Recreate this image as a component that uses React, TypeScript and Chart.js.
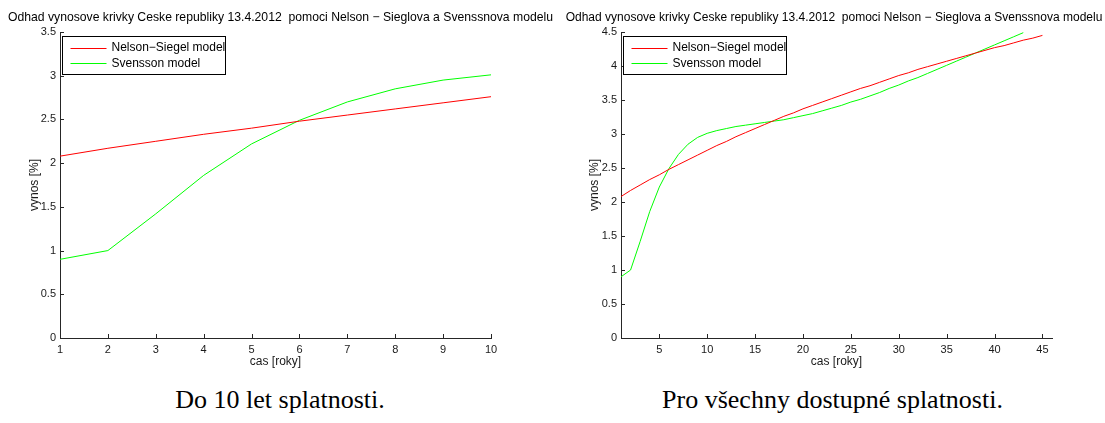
import React, { useEffect, useRef } from "react";
import { Chart, registerables } from "chart.js";

Chart.register(...registerables);

// ---- text ----
const TITLE =
  "Odhad vynosove krivky Ceske republiky 13.4.2012  pomoci Nelson \u2212 Sieglova a Svenssnova modelu";
const X_LABEL = "cas [roky]";
const Y_LABEL = "vynos [%]";
const SERIES_NAMES = ["Nelson\u2212Siegel model", "Svensson model"];
const CAPTIONS = ["Do 10 let splatnosti.", "Pro v\u0161echny dostupn\u00e9 splatnosti."];

// ---- data: maturity in years, yield in % ----
const maturities = [
  1, 2, 3, 4, 5, 6, 7, 8, 9, 10, 11, 12, 13, 14, 15, 16, 17, 18, 19, 20, 21, 22, 23,
  24, 25, 26, 27, 28, 29, 30, 31, 32, 33, 34, 35, 36, 37, 38, 39, 40, 41, 42, 43, 44, 45,
];
const nelsonSiegel = [
  2.08, 2.17, 2.25, 2.33, 2.4, 2.48, 2.55, 2.62, 2.69, 2.76, 2.83, 2.89, 2.96, 3.02, 3.08,
  3.14, 3.2, 3.26, 3.31, 3.37, 3.42, 3.47, 3.52, 3.57, 3.62, 3.67, 3.71, 3.76, 3.81, 3.86,
  3.9, 3.95, 3.99, 4.03, 4.07, 4.11, 4.15, 4.19, 4.23, 4.27, 4.3, 4.34, 4.38, 4.41, 4.45,
];
const svensson = [
  0.9, 1.0, 1.42, 1.86, 2.22, 2.49, 2.7, 2.85, 2.95, 3.01, 3.05, 3.08, 3.11, 3.13, 3.15,
  3.17, 3.19, 3.21, 3.24, 3.27, 3.3, 3.34, 3.38, 3.42, 3.47, 3.51, 3.56, 3.61, 3.67, 3.72,
  3.78, 3.83, 3.89, 3.95, 4.01, 4.07, 4.13, 4.19, 4.25, 4.31, 4.37, 4.43, 4.49,
];

// ---- axis ticks ----
const xTicksShort = [1, 2, 3, 4, 5, 6, 7, 8, 9, 10];
const yTicksShort = [0, 0.5, 1, 1.5, 2, 2.5, 3, 3.5];
const xTicksLong = [5, 10, 15, 20, 25, 30, 35, 40, 45];
const yTicksLong = [0, 0.5, 1, 1.5, 2, 2.5, 3, 3.5, 4, 4.5];

const SERIES_COLORS = ["#ff0000", "#00ff00"];
const AXIS_COLOR = "#262626";
const SANS = '"Liberation Sans", Arial, sans-serif';
const TICK_LEN = 4;

type PanelSpec = {
  upTo: number; // last maturity shown
  xMin: number;
  xMax: number;
  yMax: number;
  xTicks: number[];
  yTicks: number[];
  width: number;
  yAxisWidth: number;
  padRight: number;
  titleSize: number;
  titleShift: number;
};

const toPoints = (values: number[], upTo: number) =>
  values
    .map((v, i) => ({ x: maturities[i], y: v }))
    .filter((p) => p.x <= upTo);

// inward tick marks, title above the axes and a boxed legend in the top-left corner
const panelDecor = {
  id: "panelDecor",
  afterDraw(chart: any, _args: any, opts: any) {
    const { ctx, chartArea, scales } = chart;
    const xs = scales.x;
    const ys = scales.y;
    ctx.save();
    ctx.strokeStyle = AXIS_COLOR;
    ctx.lineWidth = 1;
    ctx.beginPath();
    for (const t of xs.ticks) {
      const px = Math.round(xs.getPixelForValue(t.value)) + 0.5;
      ctx.moveTo(px, chartArea.bottom);
      ctx.lineTo(px, chartArea.bottom - TICK_LEN);
    }
    for (const t of ys.ticks) {
      const py = Math.round(ys.getPixelForValue(t.value)) + 0.5;
      ctx.moveTo(chartArea.left, py);
      ctx.lineTo(chartArea.left + TICK_LEN, py);
    }
    ctx.stroke();

    ctx.fillStyle = "#000";
    ctx.font = `${opts.titleSize}px ${SANS}`;
    ctx.textAlign = "center";
    ctx.textBaseline = "middle";
    ctx.fillText(TITLE, (chartArea.left + chartArea.right) / 2 + opts.titleShift, 18);

    // legend
    const bx = Math.round(chartArea.left + 2) + 0.5;
    const by = Math.round(chartArea.top + 4) + 0.5;
    const bw = 163;
    const bh = 38;
    ctx.fillStyle = "#fff";
    ctx.fillRect(bx, by, bw, bh);
    ctx.strokeStyle = "#000";
    ctx.strokeRect(bx, by, bw, bh);
    ctx.font = `12px ${SANS}`;
    ctx.textAlign = "left";
    chart.data.datasets.forEach((ds: any, i: number) => {
      const ry = by + 11 + i * 15.6;
      ctx.strokeStyle = ds.borderColor;
      ctx.beginPath();
      ctx.moveTo(bx + 8, Math.round(ry) + 0.5);
      ctx.lineTo(bx + 44, Math.round(ry) + 0.5);
      ctx.stroke();
      ctx.fillStyle = "#000";
      ctx.fillText(ds.label, bx + 49, ry + 0.5);
    });
    ctx.restore();
  },
};

function Panel({ spec }: { spec: PanelSpec }) {
  const ref = useRef<HTMLCanvasElement | null>(null);

  useEffect(() => {
    if (!ref.current) return;
    const tickFont = { family: SANS, size: 11 };
    const labelFont = { family: SANS, size: 12 };
    const chart = new Chart(ref.current, {
      type: "line",
      data: {
        datasets: [
          {
            label: SERIES_NAMES[0],
            data: toPoints(nelsonSiegel, spec.upTo),
            borderColor: SERIES_COLORS[0],
            borderWidth: 1,
            pointRadius: 0,
            tension: 0,
            fill: false,
          },
          {
            label: SERIES_NAMES[1],
            data: toPoints(svensson, spec.upTo),
            borderColor: SERIES_COLORS[1],
            borderWidth: 1,
            pointRadius: 0,
            tension: 0,
            fill: false,
          },
        ],
      },
      options: {
        animation: false,
        responsive: false,
        devicePixelRatio: 1,
        events: [],
        layout: { padding: { left: 0, right: spec.padRight, top: 32, bottom: 10 } },
        plugins: {
          legend: { display: false },
          title: { display: false },
          tooltip: { enabled: false },
          panelDecor: { titleSize: spec.titleSize, titleShift: spec.titleShift },
        },
        scales: {
          x: {
            type: "linear",
            min: spec.xMin,
            max: spec.xMax,
            afterBuildTicks: (s: any) => {
              s.ticks = spec.xTicks.map((v) => ({ value: v }));
            },
            afterFit: (s: any) => {
              s.height = 32;
            },
            grid: { drawOnChartArea: false, drawTicks: false },
            border: { display: true, color: AXIS_COLOR, width: 1 },
            ticks: {
              font: tickFont,
              color: "#1a1a1a",
              padding: 5,
              maxRotation: 0,
              autoSkip: false,
              callback: (v: any) => String(v),
            },
            title: {
              display: true,
              text: X_LABEL,
              font: labelFont,
              color: "#1a1a1a",
              padding: { top: 0, bottom: 1 },
            },
          },
          y: {
            type: "linear",
            min: 0,
            max: spec.yMax,
            afterBuildTicks: (s: any) => {
              s.ticks = spec.yTicks.map((v) => ({ value: v }));
            },
            afterFit: (s: any) => {
              s.width = spec.yAxisWidth;
            },
            grid: { drawOnChartArea: false, drawTicks: false },
            border: { display: true, color: AXIS_COLOR, width: 1 },
            ticks: {
              font: tickFont,
              color: "#1a1a1a",
              padding: 4,
              autoSkip: false,
              callback: (v: any) => String(v),
            },
            title: {
              display: true,
              text: Y_LABEL,
              font: labelFont,
              color: "#1a1a1a",
              padding: { top: 27, bottom: 0 },
            },
          },
        },
      },
      plugins: [panelDecor],
    } as any);
    return () => chart.destroy();
  }, [spec]);

  return (
    <canvas
      ref={ref}
      width={spec.width}
      height={380}
      style={{ display: "block", width: spec.width, height: 380 }}
    />
  );
}

const SHORT: PanelSpec = {
  upTo: 10,
  xMin: 1,
  xMax: 10,
  yMax: 3.5,
  xTicks: xTicksShort,
  yTicks: yTicksShort,
  width: 560,
  yAxisWidth: 60,
  padRight: 69,
  titleSize: 12.2,
  titleShift: 5,
};

const LONG: PanelSpec = {
  upTo: 45,
  xMin: 1,
  xMax: 46,
  yMax: 4.5,
  xTicks: xTicksLong,
  yTicks: yTicksLong,
  width: 545,
  yAxisWidth: 61,
  padRight: 53,
  titleSize: 12,
  titleShift: -2.5,
};

const captionStyle: React.CSSProperties = {
  position: "absolute",
  top: 384,
  width: 560,
  textAlign: "center",
  fontFamily: '"Liberation Serif", "Times New Roman", serif',
  fontSize: 26,
  lineHeight: "32px",
  color: "#000",
  whiteSpace: "nowrap",
};

export default function App() {
  return (
    <div
      style={{
        position: "absolute",
        left: 0,
        top: 0,
        width: 1105,
        height: 423,
        background: "#fff",
        overflow: "hidden",
      }}
    >
      <div style={{ position: "absolute", left: 0, top: 0 }}>
        <Panel spec={SHORT} />
      </div>
      <div style={{ position: "absolute", left: 560, top: 0 }}>
        <Panel spec={LONG} />
      </div>
      <div style={{ ...captionStyle, left: 0 }}>{CAPTIONS[0]}</div>
      <div style={{ ...captionStyle, left: 560, width: 545 }}>{CAPTIONS[1]}</div>
    </div>
  );
}
